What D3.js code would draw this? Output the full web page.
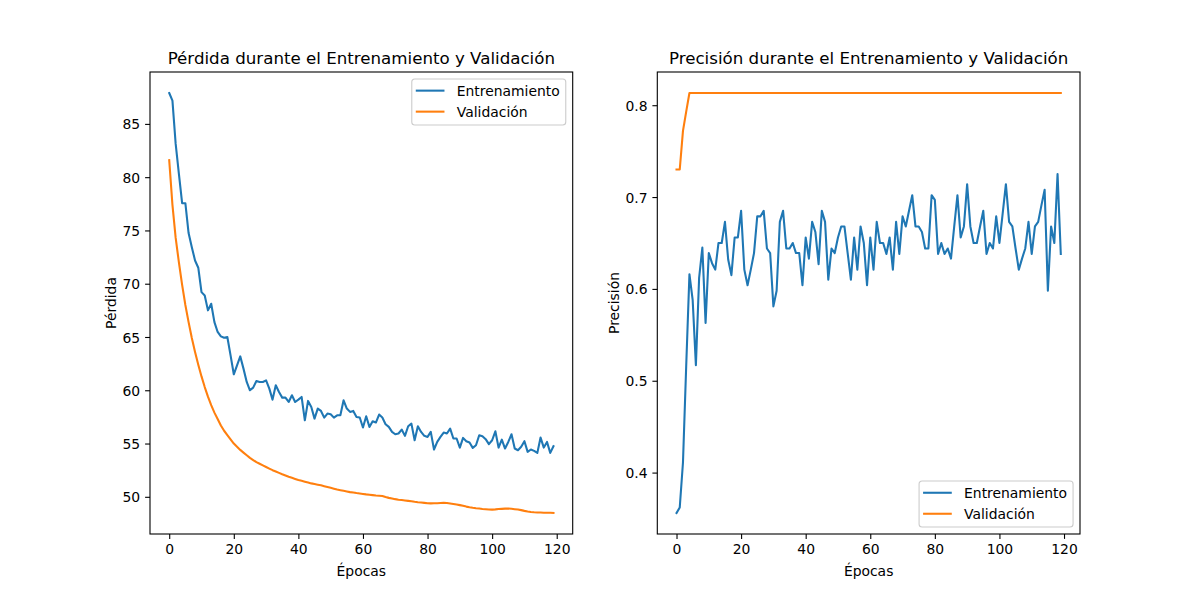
<!DOCTYPE html>
<html>
<head>
<meta charset="utf-8">
<script src="https://cdn.jsdelivr.net/npm/d3@7"></script>
<style>
  body { margin: 0; background: #fff; }
  text { font-family: "DejaVu Sans", sans-serif; fill: #000; }
</style>
</head>
<body>
<div id="plot"></div>
<script>
// epochs 0..119
var epochs = d3.range(120);

var trainLoss = [
  87.90, 87.18, 83.12, 80.31, 77.56, 77.56, 74.75, 73.43, 72.18, 71.50,
  69.21, 68.90, 67.50, 68.12, 66.40, 65.47, 65.06, 64.93, 65.00, 63.28,
  61.50, 62.34, 63.18, 62.03, 60.78, 60.00, 60.25, 60.87, 60.78, 60.78,
  60.93, 60.15, 59.12, 60.47, 59.84, 59.31, 59.31, 58.90, 59.53, 58.90,
  59.12, 59.37, 57.18, 59.00, 58.43, 57.34, 58.28, 58.06, 57.43, 57.81,
  57.75, 57.43, 57.65, 57.65, 59.06, 58.28, 57.97, 58.06, 57.50, 57.44,
  56.50, 57.56, 56.56, 57.09, 56.97, 57.72, 57.44, 56.81, 56.56, 56.09,
  55.87, 55.94, 56.31, 55.72, 56.62, 56.87, 55.31, 56.62, 56.09, 55.72,
  55.62, 56.09, 54.44, 55.15, 55.62, 56.03, 55.94, 56.40, 55.47, 55.47,
  54.62, 55.53, 55.22, 55.09, 54.59, 54.84, 55.78, 55.69, 55.41, 54.94,
  55.31, 56.15, 54.62, 55.37, 54.53, 55.15, 55.87, 54.53, 54.37, 54.69,
  55.22, 54.22, 54.44, 54.31, 54.12, 55.56, 54.62, 55.15, 54.12, 54.75
];

var valLoss = [
  81.60, 77.40, 74.30, 72.00, 69.90, 68.00, 66.40, 64.90, 63.60, 62.40,
  61.30, 60.30, 59.40, 58.60, 57.90, 57.30, 56.70, 56.20, 55.80, 55.40,
  55.00, 54.70, 54.40, 54.15, 53.90, 53.65, 53.45, 53.25, 53.10, 52.95,
  52.80, 52.65, 52.50, 52.38, 52.25, 52.12, 52.00, 51.88, 51.78, 51.68,
  51.58, 51.50, 51.42, 51.34, 51.26, 51.20, 51.14, 51.08, 51.00, 50.92,
  50.84, 50.76, 50.68, 50.62, 50.56, 50.50, 50.44, 50.40, 50.35, 50.31,
  50.27, 50.23, 50.20, 50.16, 50.12, 50.10, 50.08, 49.98, 49.90, 49.84,
  49.78, 49.73, 49.70, 49.66, 49.62, 49.58, 49.53, 49.49, 49.46, 49.43,
  49.40, 49.38, 49.39, 49.40, 49.42, 49.43, 49.42, 49.38, 49.33, 49.28,
  49.22, 49.15, 49.08, 49.02, 48.97, 48.93, 48.90, 48.86, 48.84, 48.81,
  48.80, 48.82, 48.85, 48.87, 48.89, 48.90, 48.88, 48.84, 48.80, 48.75,
  48.68, 48.62, 48.58, 48.55, 48.53, 48.52, 48.51, 48.50, 48.50, 48.48
];

var trainAcc = [
  0.356, 0.362, 0.411, 0.516, 0.616, 0.588, 0.517, 0.612, 0.645, 0.563,
  0.639, 0.628, 0.621, 0.650, 0.650, 0.673, 0.632, 0.615, 0.656, 0.656,
  0.685, 0.621, 0.604, 0.621, 0.639, 0.679, 0.679, 0.685, 0.644, 0.639,
  0.581, 0.598, 0.673, 0.685, 0.644, 0.644, 0.650, 0.639, 0.639, 0.604,
  0.656, 0.633, 0.673, 0.662, 0.627, 0.685, 0.673, 0.610, 0.644, 0.639,
  0.656, 0.668, 0.668, 0.639, 0.610, 0.656, 0.621, 0.668, 0.650, 0.604,
  0.656, 0.621, 0.673, 0.650, 0.650, 0.638, 0.656, 0.621, 0.673, 0.638,
  0.679, 0.668, 0.685, 0.702, 0.668, 0.668, 0.662, 0.644, 0.644, 0.702,
  0.697, 0.638, 0.650, 0.638, 0.644, 0.633, 0.668, 0.702, 0.656, 0.668,
  0.714, 0.668, 0.650, 0.650, 0.668, 0.685, 0.638, 0.650, 0.644, 0.679,
  0.650, 0.682, 0.714, 0.673, 0.668, 0.644, 0.621, 0.633, 0.644, 0.673,
  0.638, 0.668, 0.673, 0.691, 0.708, 0.598, 0.668, 0.650, 0.725, 0.638
];

var valAcc = [
  0.730, 0.730, 0.772, 0.793, 0.8133, 0.8133, 0.8133, 0.8133, 0.8133, 0.8133,
  0.8133, 0.8133, 0.8133, 0.8133, 0.8133, 0.8133, 0.8133, 0.8133, 0.8133, 0.8133,
  0.8133, 0.8133, 0.8133, 0.8133, 0.8133, 0.8133, 0.8133, 0.8133, 0.8133, 0.8133,
  0.8133, 0.8133, 0.8133, 0.8133, 0.8133, 0.8133, 0.8133, 0.8133, 0.8133, 0.8133,
  0.8133, 0.8133, 0.8133, 0.8133, 0.8133, 0.8133, 0.8133, 0.8133, 0.8133, 0.8133,
  0.8133, 0.8133, 0.8133, 0.8133, 0.8133, 0.8133, 0.8133, 0.8133, 0.8133, 0.8133,
  0.8133, 0.8133, 0.8133, 0.8133, 0.8133, 0.8133, 0.8133, 0.8133, 0.8133, 0.8133,
  0.8133, 0.8133, 0.8133, 0.8133, 0.8133, 0.8133, 0.8133, 0.8133, 0.8133, 0.8133,
  0.8133, 0.8133, 0.8133, 0.8133, 0.8133, 0.8133, 0.8133, 0.8133, 0.8133, 0.8133,
  0.8133, 0.8133, 0.8133, 0.8133, 0.8133, 0.8133, 0.8133, 0.8133, 0.8133, 0.8133,
  0.8133, 0.8133, 0.8133, 0.8133, 0.8133, 0.8133, 0.8133, 0.8133, 0.8133, 0.8133,
  0.8133, 0.8133, 0.8133, 0.8133, 0.8133, 0.8133, 0.8133, 0.8133, 0.8133, 0.8133
];

var xTicks = [0, 20, 40, 60, 80, 100, 120];
var lossTicks = [50, 55, 60, 65, 70, 75, 80, 85];
var accTicks = [0.4, 0.5, 0.6, 0.7, 0.8];
var seriesNames = ["Entrenamiento", "Validación"];
var colors = ["#1f77b4", "#ff7f0e"];

var W = 1200, H = 600;
var axTop = 72, axBottom = 534;
var axW = 422.7;
var panels = [
  {left: 150, title: "Pérdida durante el Entrenamiento y Validación", ylabel: "Pérdida",
   series: [trainLoss, valLoss], ticks: lossTicks, fmt: d3.format("d"), legend: "upper", labelX: -34},
  {left: 657.3, title: "Precisión durante el Entrenamiento y Validación", ylabel: "Precisión",
   series: [trainAcc, valAcc], ticks: accTicks, fmt: d3.format(".1f"), legend: "lower", labelX: -38.5}
];

var svg = d3.select("#plot")
  .append("svg")
  .attr("width", W)
  .attr("height", H);

// matplotlib style 5% margins
function padded(lo, hi) {
  var m = (hi - lo) * 0.05;
  return [lo - m, hi + m];
}

panels.forEach(function(p) {
  var g = svg.append("g").attr("transform", "translate(" + p.left + ",0)");

  var x = d3.scaleLinear()
    .domain(padded(0, epochs.length - 1))
    .range([0, axW]);

  var all = p.series[0].concat(p.series[1]);
  var y = d3.scaleLinear()
    .domain(padded(d3.min(all), d3.max(all)))
    .range([axBottom, axTop]);

  // lines
  var line = d3.line()
    .x(function(d, i) { return x(epochs[i]); })
    .y(function(d) { return y(d); });

  p.series.forEach(function(s, i) {
    g.append("path")
      .datum(s)
      .attr("fill", "none")
      .attr("stroke", colors[i])
      .attr("stroke-width", 2.08)
      .attr("stroke-linejoin", "round")
      .attr("stroke-linecap", "square")
      .attr("d", line);
  });

  // X axis
  var xAxis = g.append("g")
    .attr("transform", "translate(0," + axBottom + ")")
    .call(d3.axisBottom(x).tickValues(xTicks).tickSize(4.9).tickPadding(4.9).tickFormat(d3.format("d")));

  // Y axis
  var yAxis = g.append("g")
    .call(d3.axisLeft(y).tickValues(p.ticks).tickSize(4.9).tickPadding(4.9).tickFormat(p.fmt));

  [xAxis, yAxis].forEach(function(a) {
    a.select(".domain").remove();
    a.selectAll(".tick line").attr("stroke", "#000").attr("stroke-width", 1.1);
    a.selectAll(".tick text")
      .attr("font-family", "DejaVu Sans")
      .attr("font-size", 13.9)
      .attr("fill", "#000");
  });
  yAxis.selectAll(".tick text").attr("dy", "0.36em");
  xAxis.selectAll(".tick text").attr("dy", "0.76em");

  // spines
  g.append("rect")
    .attr("x", 0)
    .attr("y", axTop)
    .attr("width", axW)
    .attr("height", axBottom - axTop)
    .attr("fill", "none")
    .attr("stroke", "#000")
    .attr("stroke-width", 1.1);

  // title
  g.append("text")
    .attr("x", axW / 2)
    .attr("y", axTop - 8.3)
    .attr("text-anchor", "middle")
    .attr("font-size", 16.67)
    .text(p.title);

  // X axis label
  g.append("text")
    .attr("x", axW / 2)
    .attr("y", 576)
    .attr("text-anchor", "middle")
    .attr("font-size", 13.9)
    .text("Épocas");

  // Y axis label
  g.append("text")
    .attr("transform", "rotate(-90)")
    .attr("x", -(axTop + axBottom) / 2)
    .attr("y", p.labelX)
    .attr("text-anchor", "middle")
    .attr("font-size", 13.9)
    .text(p.ylabel);

  // legend
  var boxH = 46;
  var leg = g.append("g");
  var box = leg.append("rect")
    .attr("rx", 3)
    .attr("ry", 3)
    .attr("fill", "#fff")
    .attr("fill-opacity", 0.8)
    .attr("stroke", "#cccccc")
    .attr("stroke-width", 1.1);

  var labels = seriesNames.map(function(name, i) {
    var ry = 11.7 + i * 21;
    leg.append("line")
      .attr("x1", 4)
      .attr("x2", 32.7)
      .attr("y1", ry)
      .attr("y2", ry)
      .attr("stroke", colors[i])
      .attr("stroke-width", 2.08);
    return leg.append("text")
      .attr("x", 45)
      .attr("y", ry)
      .attr("dy", "0.36em")
      .attr("font-size", 13.9)
      .text(name);
  });

  var tw = d3.max(labels, function(t) { return t.node().getComputedTextLength(); });
  var boxW = 45 + tw + 6;
  box.attr("width", boxW).attr("height", boxH);

  var lx = axW - 6.94 - boxW;
  var ly = p.legend === "upper" ? axTop + 6.94 : axBottom - 6.94 - boxH;
  leg.attr("transform", "translate(" + lx + "," + ly + ")");
});
</script>
</body>
</html>
